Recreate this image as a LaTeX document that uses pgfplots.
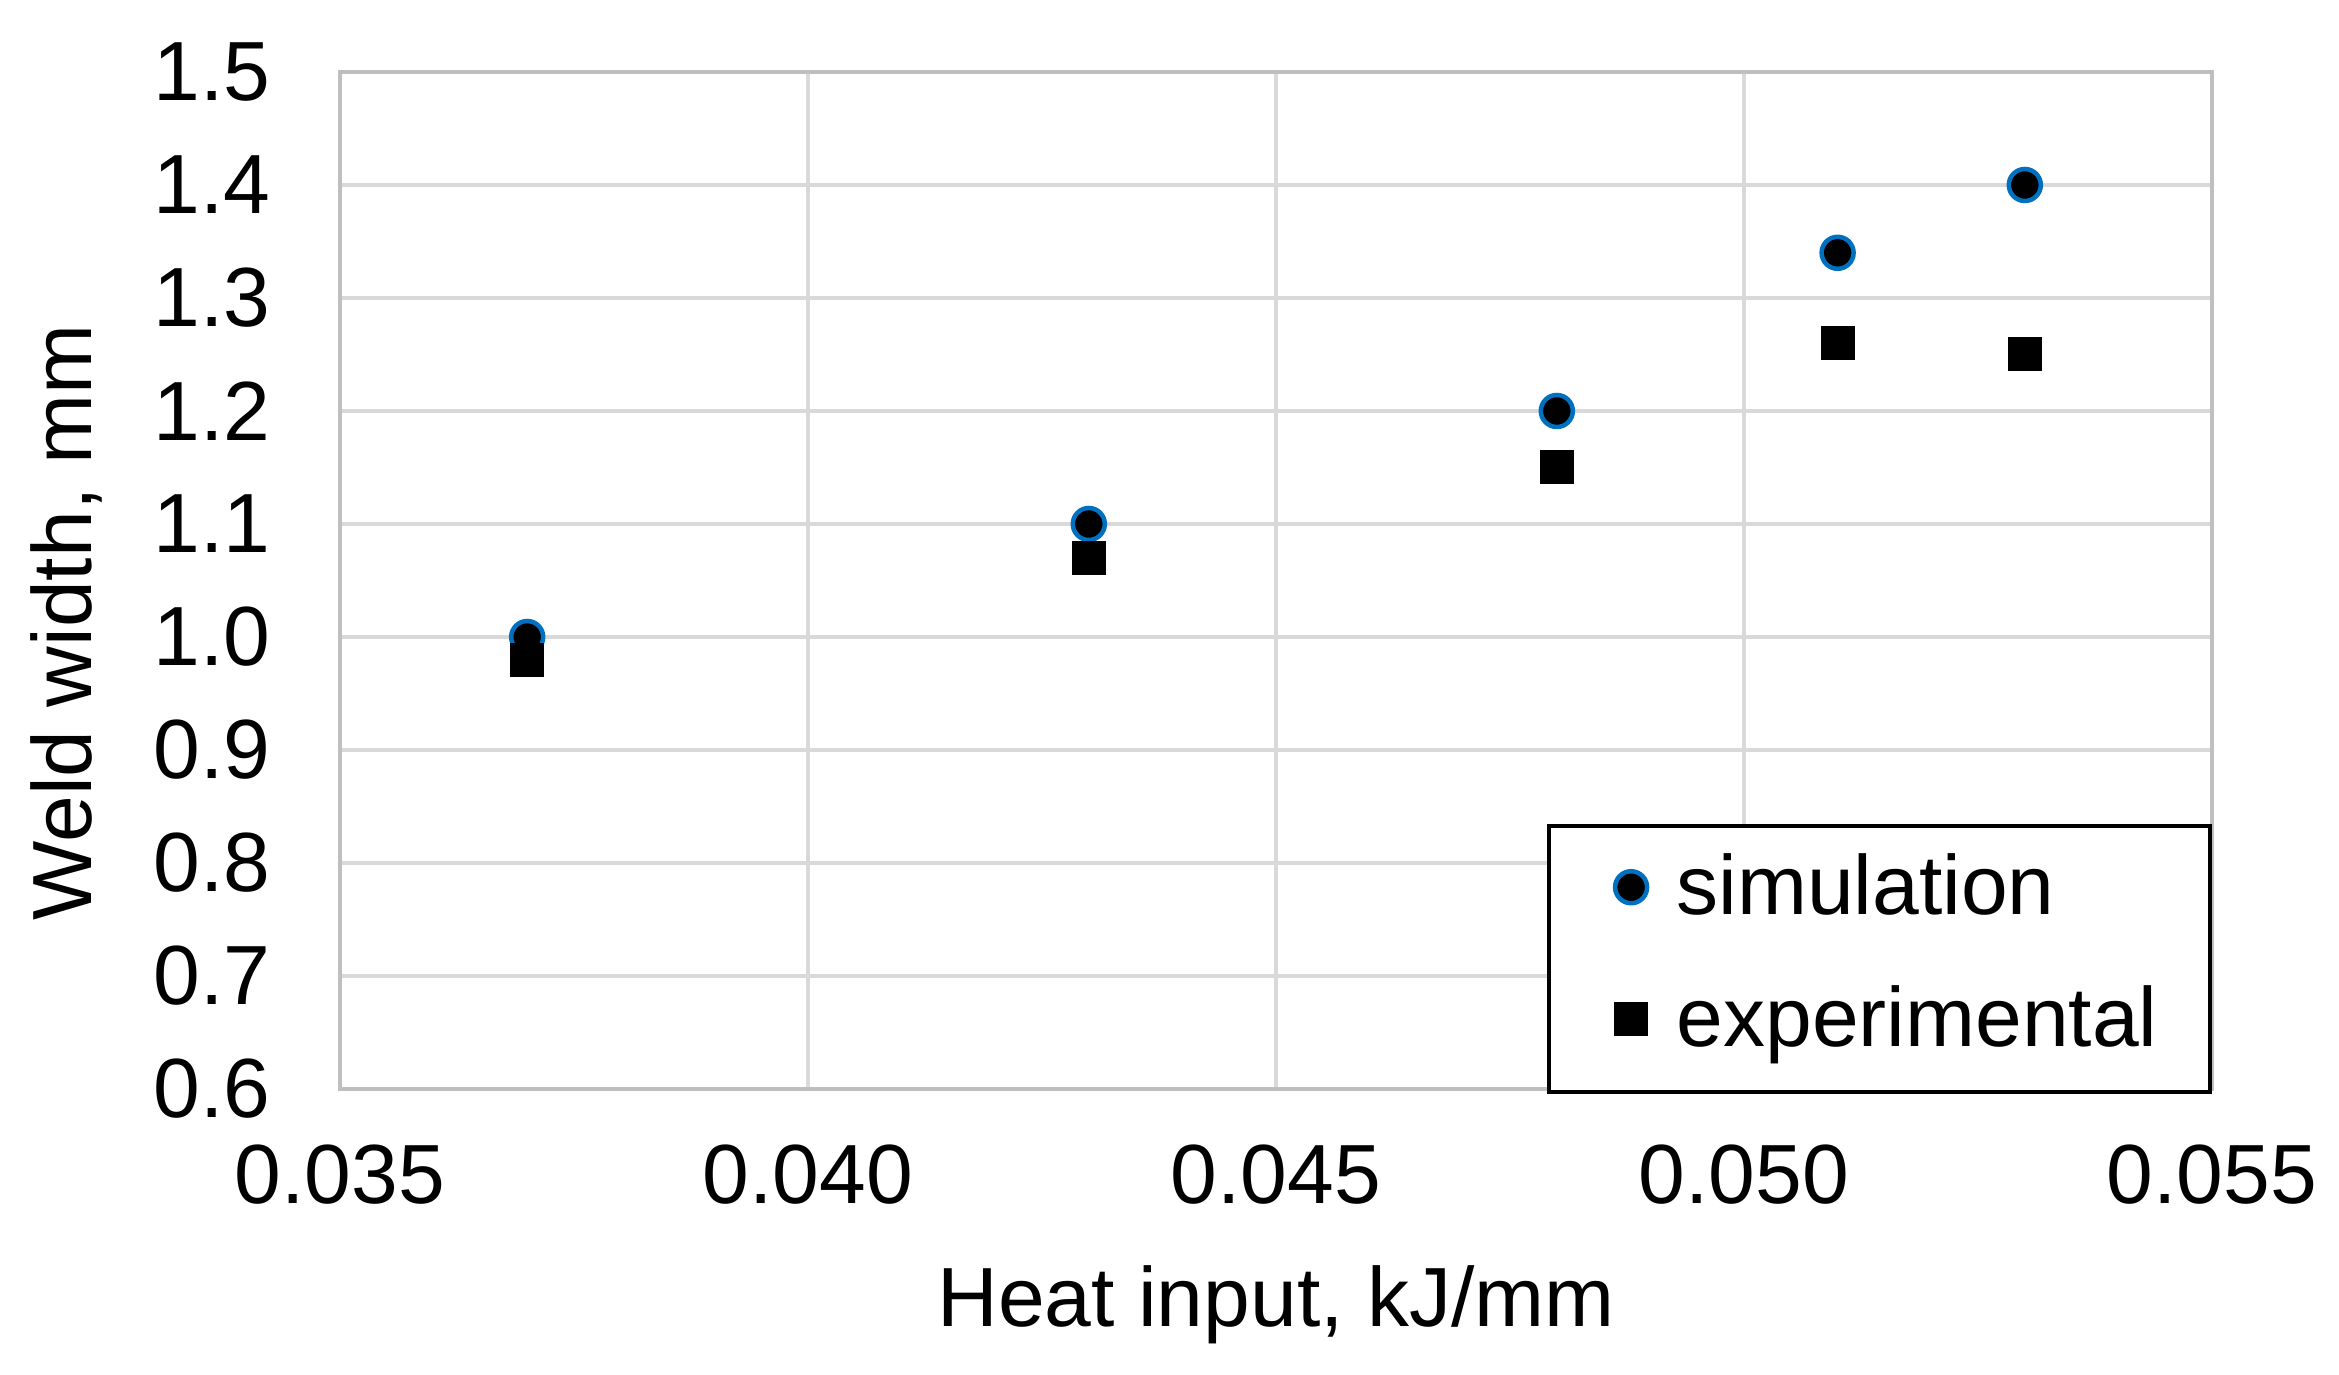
\documentclass[border=0pt]{standalone}
\usepackage{fontspec}
\setmainfont{Liberation Sans}
\usepackage{pgfplots}
\pgfplotsset{compat=1.18}
\definecolor{gridc}{RGB}{217,217,217}
\definecolor{axc}{RGB}{191,191,191}
\definecolor{simblue}{RGB}{0,112,192}
\begin{document}
\begin{tikzpicture}
\path[use as bounding box] (-68pt,-57.2pt) rectangle (399.8pt,217.8pt);
\begin{axis}[
  at={(0,0)}, anchor=south west,
  scale only axis, width=374.4pt, height=203.4pt,
  xmin=0.035, xmax=0.055, ymin=0.6, ymax=1.5,
  xtick={0.035,0.040,0.045,0.050,0.055},
  ytick={0.6,0.7,0.8,0.9,1.0,1.1,1.2,1.3,1.4,1.5},
  grid=major,
  major grid style={gridc, line width=0.65pt},
  axis line style={axc, line width=0.8pt},
  major tick length=0pt,
  tick style={draw=none},
  /pgf/number format/assume math mode=true,
  scaled x ticks=false,
  tick label style={font=\fontsize{16.8}{20}\selectfont},
  label style={font=\fontsize{16.8}{20}\selectfont},
  xticklabel style={/pgf/number format/fixed, /pgf/number format/fixed zerofill, /pgf/number format/precision=3, yshift=-7.6pt},
  yticklabel style={/pgf/number format/fixed, /pgf/number format/fixed zerofill, /pgf/number format/precision=1, xshift=-10.4pt},
  xlabel={Heat input, kJ/mm},
  ylabel={Weld width, mm},
  xlabel style={at={(axis description cs:0.5,-0.212)}, anchor=center},
  ylabel style={at={(axis description cs:-0.146,0.459)}, anchor=center},
  legend style={at={(rel axis cs:1,0)}, anchor=south east, yshift=-1pt, draw=black, line width=0.8pt, fill=white,
    inner xsep=8.5pt, inner ysep=3.6pt, row sep=6.9pt, column sep=3.8pt,
    font=\fontsize{16.8}{20}\selectfont,
    nodes={inner sep=2pt, text height=12pt, text depth=3.5pt}},
  legend cell align=left,
  legend image code/.code={\path[draw=none,fill=none] (-8pt,0pt) -- (0pt,0pt); \draw[#1] plot coordinates {(0pt,1.2pt)};},
]
\addplot[only marks, mark=*, mark size=3.2pt, mark options={fill=black, draw=simblue, line width=0.9pt}]
  coordinates {(0.037,1.00) (0.043,1.10) (0.048,1.20) (0.051,1.34) (0.053,1.40)};
\addlegendentry{simulation}
\addplot[only marks, mark=square*, mark size=3.3pt, mark options={fill=black, draw=black, line width=0.2pt}]
  coordinates {(0.037,0.98) (0.043,1.07) (0.048,1.15) (0.051,1.26) (0.053,1.25)};
\addlegendentry{experimental}
\end{axis}
\end{tikzpicture}
\end{document}
